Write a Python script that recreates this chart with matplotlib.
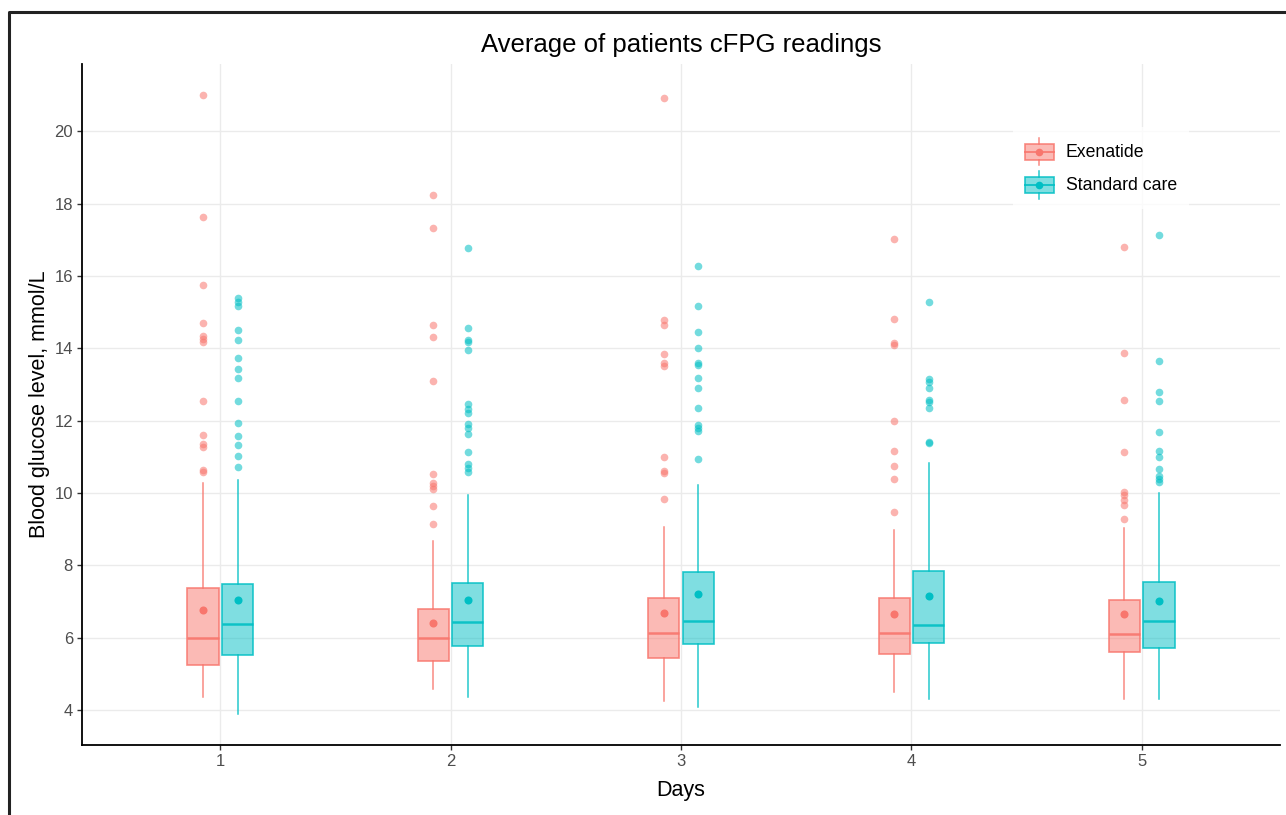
import matplotlib
matplotlib.use('Agg')
import matplotlib.pyplot as plt
import matplotlib.colors as mcolors
from matplotlib.legend_handler import HandlerBase
from matplotlib.patches import Rectangle, Patch
from matplotlib.lines import Line2D

plt.rcParams['font.family'] = ['Liberation Sans', 'DejaVu Sans']

# data
days = [1, 2, 3, 4, 5]
groups = ['Exenatide', 'Standard care']
colours = ['#F8766D', '#00BFC4']

exe_q1 = [5.24, 5.35, 5.44, 5.56, 5.59]
exe_med = [5.98, 5.98, 6.12, 6.14, 6.10]
exe_q3 = [7.37, 6.78, 7.09, 7.09, 7.05]
exe_mean = [6.77, 6.39, 6.68, 6.65, 6.65]
exe_lo = [4.37, 4.57, 4.24, 4.49, 4.29]
exe_hi = [10.27, 8.68, 9.05, 8.98, 9.02]
exe_out = [
    [21.0, 17.63, 15.74, 14.70, 14.33, 14.25, 14.17, 12.53, 11.61, 11.35, 11.27, 10.64, 10.58],
    [18.25, 17.33, 14.63, 14.31, 13.10, 10.52, 10.28, 10.20, 10.12, 9.63, 9.14],
    [20.92, 14.79, 14.63, 13.83, 13.59, 13.51, 10.98, 10.60, 10.56, 9.82],
    [17.02, 14.80, 14.15, 14.10, 11.99, 11.15, 10.74, 10.39, 9.46],
    [16.81, 13.88, 12.56, 11.14, 10.02, 9.95, 9.80, 9.66, 9.29],
]

std_q1 = [5.52, 5.77, 5.81, 5.84, 5.72]
std_med = [6.38, 6.44, 6.45, 6.34, 6.46]
std_q3 = [7.48, 7.51, 7.81, 7.85, 7.53]
std_mean = [7.05, 7.05, 7.21, 7.14, 7.01]
std_lo = [3.89, 4.37, 4.09, 4.29, 4.29]
std_hi = [10.36, 9.95, 10.22, 10.84, 10.00]
std_out = [
    [15.40, 15.29, 15.17, 14.50, 14.22, 13.73, 13.42, 13.18, 12.53, 11.92, 11.58, 11.33, 11.01, 10.73],
    [16.76, 14.55, 14.22, 14.16, 13.94, 12.45, 12.33, 12.22, 11.90, 11.80, 11.63, 11.12, 10.79, 10.69, 10.58],
    [16.27, 15.18, 14.46, 14.02, 13.60, 13.55, 13.18, 12.90, 12.34, 11.88, 11.79, 11.70, 10.93],
    [15.29, 13.16, 13.06, 12.91, 12.58, 12.51, 12.35, 11.40, 11.37],
    [17.14, 13.64, 12.80, 12.55, 11.69, 11.16, 10.99, 10.67, 10.48, 10.39, 10.30],
]


def box_stats(q1, med, q3, mean, lo, hi, out):
    return [dict(q1=a, med=b, q3=c, mean=d, whislo=e, whishi=f, fliers=g)
            for a, b, c, d, e, f, g in zip(q1, med, q3, mean, lo, hi, out)]


all_stats = [box_stats(exe_q1, exe_med, exe_q3, exe_mean, exe_lo, exe_hi, exe_out),
             box_stats(std_q1, std_med, std_q3, std_mean, std_lo, std_hi, std_out)]


class BoxKey(HandlerBase):
    # ggplot-like boxplot key with mean point (sizes in points)
    def create_artists(self, legend, orig_handle, xdescent, ydescent,
                       width, height, fontsize, trans):
        col = orig_handle.get_edgecolor()
        x0, y0 = -xdescent, -ydescent
        xm, ym = x0 + width / 2, y0 + height / 2
        bh, wh = 11.5, 10
        rect = Rectangle((x0, ym - bh / 2), width, bh, transform=trans,
                         facecolor=mcolors.to_rgba(col, 0.5),
                         edgecolor=mcolors.to_rgba(col, 0.85), lw=1.2)
        med = Line2D([x0, x0 + width], [ym, ym], color=col, lw=1.4, alpha=0.85, transform=trans)
        w1 = Line2D([xm, xm], [ym - wh, ym - bh / 2], color=col, lw=1.1, alpha=0.85, transform=trans)
        w2 = Line2D([xm, xm], [ym + bh / 2, ym + wh], color=col, lw=1.1, alpha=0.85, transform=trans)
        dot = Line2D([xm], [ym], marker='o', ms=5.5, color=col, mec='none', transform=trans)
        return [w1, w2, rect, med, dot]


W, H = 1286, 815
fig = plt.figure(figsize=(W / 100, H / 100), dpi=100)
ax = fig.add_axes([82 / W, 1 - 745 / H, (1280 - 82) / W, (745 - 64) / H])

offsets = [-0.075, 0.075]
for stats, col, off in zip(all_stats, colours, offsets):
    ax.bxp(stats, positions=[d + off for d in days], widths=0.135,
           patch_artist=True, showmeans=True, showcaps=False, manage_ticks=False,
           boxprops=dict(facecolor=mcolors.to_rgba(col, 0.5),
                         edgecolor=mcolors.to_rgba(col, 0.85), linewidth=1.2),
           medianprops=dict(color=col, linewidth=1.8, alpha=0.9),
           whiskerprops=dict(color=col, linewidth=1.1, alpha=0.85),
           flierprops=dict(marker='o', markerfacecolor=col, markeredgecolor='none',
                           alpha=0.55, markersize=5.5),
           meanprops=dict(marker='o', markerfacecolor=col, markeredgecolor='none',
                          markersize=5.8))

ax.set_xlim(0.4, 5.6)
ax.set_ylim(3.03, 21.86)
ax.set_xticks(days)
ax.set_yticks(range(4, 21, 2))
ax.grid(True, color='#EBEBEB', lw=1.0)
ax.set_axisbelow(True)
for s in ['top', 'right']:
    ax.spines[s].set_visible(False)
for s in ['left', 'bottom']:
    ax.spines[s].set_linewidth(1.3)
    ax.spines[s].set_color('black')
ax.tick_params(length=3.5, width=1.0, color='#333333', labelsize=12,
               labelcolor='#4D4D4D', pad=3)

ax.set_xlabel('Days', fontsize=15.5, labelpad=8)
ax.set_ylabel('Blood glucose level, mmol/L', fontsize=15.5, labelpad=3)
ax.set_title('Average of patients cFPG readings', fontsize=18.5, pad=9)

handles = [Patch(facecolor=c, edgecolor=c, label=g) for c, g in zip(colours, groups)]
leg = ax.legend(handles=handles, handler_map={Patch: BoxKey()},
                loc='upper left', bbox_to_anchor=(1013 / W, 1 - 127 / H),
                bbox_transform=fig.transFigure, fontsize=12.7, frameon=True,
                handlelength=1.6, handleheight=1.75, handletextpad=0.7,
                labelspacing=0.5, borderpad=0.7, borderaxespad=0, fancybox=False)
leg.get_frame().set_facecolor('white')
leg.get_frame().set_edgecolor('none')

# screenshot frame
fx, fy = 8.5 / W, 1 - 11.5 / H
fig.add_artist(Line2D([fx, fx, 1.0], [0, fy, fy], transform=fig.transFigure,
                      color='#222222', lw=2.2))

fig.savefig('out.png', dpi=100)
